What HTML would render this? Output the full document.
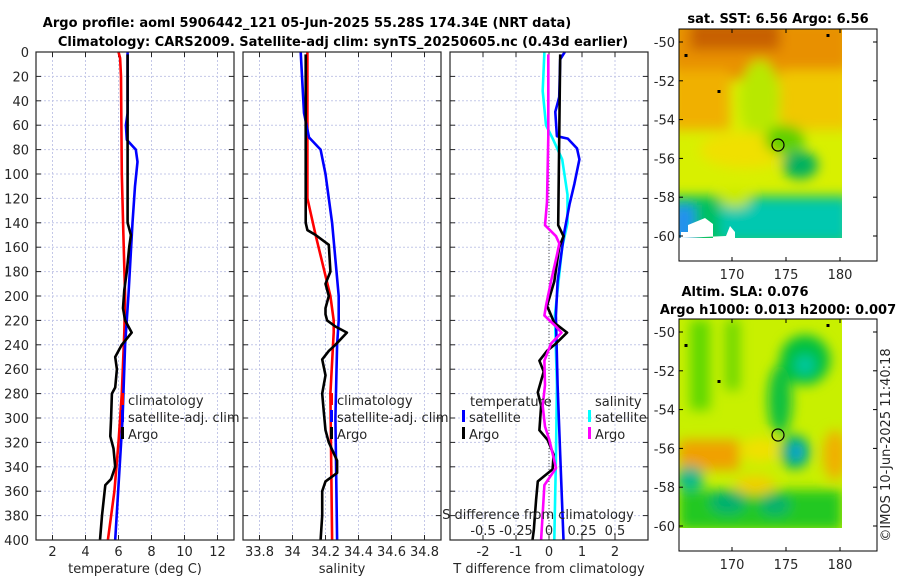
<!DOCTYPE html>
<html><head><meta charset="utf-8"><style>
body{margin:0;background:#fff;}
svg text{font-family:"DejaVu Sans","Liberation Sans",sans-serif;fill:#262626;}
</style></head><body>
<svg id="fig" width="900" height="580" viewBox="0 0 900 580" xmlns="http://www.w3.org/2000/svg">
<defs>
<filter id="blur" x="-20%" y="-20%" width="140%" height="140%"><feGaussianBlur stdDeviation="6"/></filter>
<clipPath id="c1"><rect x="679" y="29" width="163" height="209"/></clipPath>
<clipPath id="c2"><rect x="679" y="319" width="163" height="209"/></clipPath>
</defs>
<text x="307" y="27" text-anchor="middle" font-size="13" font-weight="bold" style="fill:#000">Argo profile: aoml 5906442_121 05-Jun-2025 55.28S 174.34E (NRT data)</text>
<text x="343" y="46" text-anchor="middle" font-size="13" font-weight="bold" style="fill:#000">Climatology: CARS2009. Satellite-adj clim: synTS_20250605.nc (0.43d earlier)</text>

<!-- SST map -->
<g>
<text x="778" y="23" text-anchor="middle" font-size="13" font-weight="bold" style="fill:#000">sat. SST: 6.56 Argo: 6.56</text>
<g clip-path="url(#c1)">
<rect x="679" y="29" width="163" height="209" fill="#d8f000"/>
<g filter="url(#blur)">
<rect x="670" y="20" width="180" height="60" fill="#e89000"/>
<rect x="690" y="20" width="90" height="30" fill="#c86000"/>
<rect x="670" y="70" width="60" height="60" fill="#f0b000"/>
<rect x="780" y="70" width="70" height="60" fill="#f0c800"/>
<ellipse cx="760" cy="100" rx="20" ry="40" fill="#b8e800"/>
<ellipse cx="745" cy="150" rx="45" ry="18" fill="#f0e000"/>
<ellipse cx="785" cy="140" rx="20" ry="15" fill="#60d000"/>
<rect x="670" y="196" width="180" height="50" fill="#00c060"/>
<rect x="720" y="200" width="130" height="40" fill="#00c8b0"/>
<ellipse cx="800" cy="165" rx="18" ry="14" fill="#00b060"/>
<rect x="670" y="205" width="25" height="40" fill="#2090f0"/>
<ellipse cx="735" cy="200" rx="15" ry="8" fill="#c0e800"/>
</g>
<polygon points="681,238 681,232 688,232 688,225 705,218 713,224 713,238 735,238 735,232 730,226 726,236" fill="#fff"/>
</g>
<circle cx="778" cy="145" r="6" fill="none" stroke="#000" stroke-width="1.2"/>
<rect x="679" y="29" width="198" height="232" fill="none" stroke="#000" stroke-width="1"/>
</g>

<!-- SLA map -->
<g>
<text x="745" y="296" text-anchor="middle" font-size="13" font-weight="bold" style="fill:#000">Altim. SLA: 0.076</text>
<text x="778" y="314" text-anchor="middle" font-size="13" font-weight="bold" style="fill:#000">Argo h1000: 0.013 h2000: 0.007</text>
<g clip-path="url(#c2)">
<rect x="679" y="319" width="163" height="209" fill="#c8f000"/>
<g filter="url(#blur)">
<rect x="690" y="320" width="20" height="90" fill="#60d800"/>
<rect x="725" y="320" width="15" height="70" fill="#70d800"/>
<ellipse cx="805" cy="360" rx="25" ry="25" fill="#00c040"/>
<ellipse cx="805" cy="365" rx="10" ry="10" fill="#00c8a0"/>
<ellipse cx="780" cy="400" rx="12" ry="35" fill="#10c040"/>
<ellipse cx="795" cy="452" rx="15" ry="17" fill="#00b070"/>
<ellipse cx="797" cy="452" rx="7" ry="8" fill="#10a0e0"/>
<rect x="679" y="440" width="60" height="30" fill="#f0a000"/>
<ellipse cx="835" cy="455" rx="12" ry="25" fill="#f0b000"/>
<ellipse cx="760" cy="450" rx="20" ry="12" fill="#f0e000"/>
<rect x="679" y="490" width="163" height="40" fill="#20c820"/>
<ellipse cx="690" cy="478" rx="14" ry="12" fill="#00b890"/>
<ellipse cx="728" cy="502" rx="18" ry="12" fill="#00b070"/>
<ellipse cx="775" cy="505" rx="15" ry="10" fill="#00b070"/>
<ellipse cx="755" cy="485" rx="20" ry="10" fill="#f0d000"/>
</g>
</g>
<circle cx="778" cy="435" r="6" fill="none" stroke="#000" stroke-width="1.2"/>
<rect x="679" y="319" width="198" height="232" fill="none" stroke="#000" stroke-width="1"/>
</g>
<text x="890" y="445" text-anchor="middle" font-size="13" transform="rotate(-90 890 445)">©IMOS 10-Jun-2025 11:40:18</text>
<g id="maps-axes"></g>
<g id="profiles"></g>
</svg>
<script>
// ---------- data ----------
const depthTicks = [0,20,40,60,80,100,120,140,160,180,200,220,240,260,280,300,320,340,360,380,400];
const tempTicks = [2,4,6,8,10,12];
const salTicks = [33.8,34,34.2,34.4,34.6,34.8];
const salTickLabels = ["33.8","34","34.2","34.4","34.6","34.8"];
const diffTicks = [-2,-1,0,1,2];
const sdiffTicks = [-0.5,-0.25,0,0.25,0.5];
const sdiffTickLabels = ["-0.5","-0.25","0","0.25","0.5"];

const tClimDepth = [0,5,20,100,150,200,230,280,320,360,400];
const tClimVal = [6.0,6.1,6.15,6.2,6.3,6.4,6.35,6.2,6.0,5.75,5.36];
const tSatDepth = [0,50,60,72,80,90,110,140,200,240,300,400];
const tSatVal = [6.55,6.55,6.45,6.5,7.05,7.15,7.0,6.85,6.6,6.4,6.25,5.8];
const tArgoDepth = [2,50,140,150,160,180,195,210,220,230,240,250,260,275,280,300,315,325,340,350,355,380,400];
const tArgoVal = [6.55,6.55,6.55,6.75,6.65,6.5,6.35,6.27,6.4,6.8,6.2,5.8,5.9,5.8,5.6,5.55,5.5,5.7,5.8,5.55,5.2,5.0,4.88];

const sClimDepth = [0,120,150,200,220,230,280,400];
const sClimVal = [34.09,34.09,34.14,34.23,34.25,34.25,34.23,34.24];
const sSatDepth = [0,50,70,80,100,140,200,220,240,300,400];
const sSatVal = [34.05,34.07,34.10,34.17,34.2,34.24,34.28,34.28,34.27,34.26,34.27];
const sArgoDepth = [2,140,146,150,158,180,190,200,210,215,220,225,230,240,245,252,265,280,295,310,320,335,345,352,360,380,400];
const sArgoVal = [34.08,34.08,34.09,34.14,34.22,34.23,34.2,34.22,34.2,34.2,34.21,34.26,34.33,34.26,34.22,34.18,34.2,34.18,34.19,34.2,34.22,34.27,34.27,34.2,34.18,34.18,34.17];

const dTSatDepth = [0,6,37,49,69,71,79,88,108,125,148,188,216,273,330,400];
const dTSatVal = [0.48,0.34,0.31,0.19,0.24,0.57,0.85,0.92,0.77,0.62,0.46,0.26,0.21,0.26,0.34,0.44];
const dTArgoDepth = [2,142,151,160,188,208,222,230,239,245,253,262,279,290,310,318,330,342,352,367,392,400];
const dTArgoVal = [0.34,0.28,0.44,0.31,0.16,-0.06,0.16,0.55,0.21,-0.06,-0.29,-0.16,-0.34,-0.24,-0.29,-0.04,0.14,0.11,-0.34,-0.39,-0.46,-0.5];
const dSSatDepth = [0,32,60,71,88,117,140,160,216,273,330,400];
const dSSatVal = [-0.035,-0.048,-0.023,0.028,0.10,0.14,0.14,0.10,0.045,0.06,0.053,0.04];
const dSArgoDepth = [2,69,123,142,151,157,165,188,208,216,225,230,239,253,273,290,307,318,341,355,400];
const dSArgoVal = [-0.005,-0.005,-0.015,-0.03,0.053,0.078,0.063,0.015,-0.023,-0.035,0.053,0.095,0.015,-0.035,-0.03,-0.048,-0.03,0.003,0.053,-0.035,-0.06];

const latTicks = [-50,-52,-54,-56,-58,-60];
const lonTicks = [170,175,180];

// ---------- helpers ----------
const NS = "http://www.w3.org/2000/svg";
const root = document.getElementById('profiles');
const maxes = document.getElementById('maps-axes');
function el(tag, attrs, parent, txt){
  const e = document.createElementNS(NS, tag);
  for (const k in attrs) e.setAttribute(k, attrs[k]);
  if (txt !== undefined) e.textContent = txt;
  (parent||root).appendChild(e);
  return e;
}
const Y0 = 52, Y1 = 540;
const yD = d => Y0 + (Y1 - Y0) * d / 400;

function panel(name, x0, x1, vmin, vmax, ticks, labels, xlabel, showDepth){
  const g = el('g', {});
  
  
  const xs = v => x0 + (x1 - x0) * (v - vmin) / (vmax - vmin);
  depthTicks.forEach(d => {
    const l = el('line', {x1:x0, x2:x1, y1:yD(d), y2:yD(d), stroke:'#c4c8e8', 'stroke-width':1, 'stroke-dasharray':'2,2'}, g);
    
    
    el('line', {x1:x0, x2:x0+5, y1:yD(d), y2:yD(d), stroke:'#262626'}, g);
    el('line', {x1:x1-5, x2:x1, y1:yD(d), y2:yD(d), stroke:'#262626'}, g);
    if (showDepth){
      const t = el('text', {x:x0-7, y:yD(d)+5, 'text-anchor':'end', 'font-size':13}, g, String(d));
      
      
    }
  });
  ticks.forEach((v,i) => {
    const gl = el('line', {x1:xs(v), x2:xs(v), y1:Y0, y2:Y1, stroke:'#c4c8e8', 'stroke-width':1, 'stroke-dasharray':'2,2'}, g);
    
    
    el('line', {x1:xs(v), x2:xs(v), y1:Y1-5, y2:Y1, stroke:'#262626'}, g);
    el('line', {x1:xs(v), x2:xs(v), y1:Y0, y2:Y0+5, stroke:'#262626'}, g);
    const t = el('text', {x:xs(v), y:Y1+16, 'text-anchor':'middle', 'font-size':13}, g, labels[i]);
    
    
  });
  const xl = el('text', {x:(x0+x1)/2, y:Y1+33, 'text-anchor':'middle', 'font-size':13}, g, xlabel);
  
  
  return {g, xs};
}
function series(p, name, depths, vals, color, scale){
  const pts = depths.map((d,i) => p.xs(vals[i]*(scale||1)).toFixed(1) + ',' + yD(d).toFixed(1)).join(' ');
  const pl = el('polyline', {points:pts, fill:'none', stroke:color, 'stroke-width':2.6, 'stroke-linejoin':'round'}, p.g);
  
  
}
function frame(p, x0, x1){
  el('rect', {x:x0, y:Y0, width:x1-x0, height:Y1-Y0, fill:'none', stroke:'#262626', 'stroke-width':1.2}, p.g);
}
function legend(p, x, y, entries){
  entries.forEach((e,i) => {
    const yy = y + i*17;
    el('rect', {x:x, y:yy-7, width:3, height:12, fill:e[1]}, p.g);
    const t = el('text', {x:x+7, y:yy+5, 'font-size':13}, p.g, e[0]);
    
    
  });
}

// Temperature panel
const pT = panel('temperature-panel', 36, 234, 1, 13, tempTicks, tempTicks.map(String), 'temperature (deg C)', true);
series(pT, 'temp-climatology-line', tClimDepth, tClimVal, '#ff0000');
series(pT, 'temp-satellite-line', tSatDepth, tSatVal, '#0000ff');
series(pT, 'temp-argo-line', tArgoDepth, tArgoVal, '#000000');
frame(pT, 36, 234);
legend(pT, 121, 400, [['climatology','#ff0000'],['satellite-adj. clim','#0000ff'],['Argo','#000000']]);

// Salinity panel
const pS = panel('salinity-panel', 243, 441, 33.7, 34.9, salTicks, salTickLabels, 'salinity', false);
series(pS, 'sal-climatology-line', sClimDepth, sClimVal, '#ff0000');
series(pS, 'sal-satellite-line', sSatDepth, sSatVal, '#0000ff');
series(pS, 'sal-argo-line', sArgoDepth, sArgoVal, '#000000');
frame(pS, 243, 441);
legend(pS, 330, 400, [['climatology','#ff0000'],['satellite-adj. clim','#0000ff'],['Argo','#000000']]);

// Difference panel
const pD = panel('difference-panel', 450, 648, -3, 3, diffTicks, diffTicks.map(String), 'T difference from climatology', false);
const zl = el('line', {x1:pD.xs(0), x2:pD.xs(0), y1:Y0, y2:Y1, stroke:'#555', 'stroke-width':1, 'stroke-dasharray':'1,2'}, pD.g);


series(pD, 'dsal-satellite-line', dSSatDepth, dSSatVal, '#00ffff', 4);
series(pD, 'dtemp-satellite-line', dTSatDepth, dTSatVal, '#0000ff');
series(pD, 'dtemp-argo-line', dTArgoDepth, dTArgoVal, '#000000');
series(pD, 'dsal-argo-line', dSArgoDepth, dSArgoVal, '#ff00ff', 4);
frame(pD, 450, 648);
const lt = el('text', {x:470, y:406, 'font-size':13}, pD.g, 'temperature');


const ls = el('text', {x:595, y:406, 'font-size':13}, pD.g, 'salinity');


legend(pD, 462, 417, [['satellite','#0000ff'],['Argo','#000000']]);
legend(pD, 588, 417, [['satellite','#00ffff'],['Argo','#ff00ff']]);
const st = el('text', {x:538, y:519, 'text-anchor':'middle', 'font-size':13}, pD.g, 'S difference from climatology');


sdiffTicks.forEach((v,i) => {
  const t = el('text', {x:pD.xs(v*4), y:535, 'text-anchor':'middle', 'font-size':13}, pD.g, sdiffTickLabels[i]);
  
  
});

// Map axes
function mapAxes(name, top, lat50y, lat60y){
  const g = el('g', {}, maxes);
  
  
  const ly = v => lat50y + (lat60y - lat50y) * (v + 50) / (-10);
  const lx = v => 732 + (840 - 732) * (v - 170) / 10;
  latTicks.forEach(v => {
    el('line', {x1:679, x2:683, y1:ly(v), y2:ly(v), stroke:'#000'}, g);
    el('line', {x1:873, x2:877, y1:ly(v), y2:ly(v), stroke:'#000'}, g);
    const t = el('text', {x:675, y:ly(v)+5, 'text-anchor':'end', 'font-size':13}, g, String(v));
    
    
  });
  lonTicks.forEach(v => {
    el('line', {x1:lx(v), x2:lx(v), y1:top+232-4, y2:top+232, stroke:'#000'}, g);
    el('line', {x1:lx(v), x2:lx(v), y1:top, y2:top+4, stroke:'#000'}, g);
    const t = el('text', {x:lx(v), y:top+250, 'text-anchor':'middle', 'font-size':13}, g, String(v));
    
    
  });
  [[686,56],[719,92],[828,36]].forEach(p => el('rect', {x:p[0]-1.5, y:p[1]-2+(top-29), width:3, height:3, fill:'#000'}, g));
}
mapAxes('sst-map-axes', 29, 42, 236);
mapAxes('sla-map-axes', 319, 332, 526);
</script>
</body></html>
